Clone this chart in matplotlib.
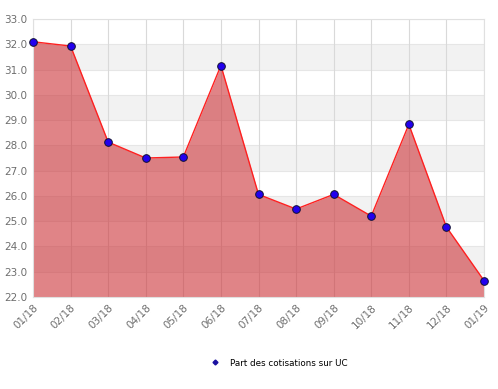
import matplotlib.pyplot as plt
import numpy as np

months = ['01/18', '02/18', '03/18', '04/18', '05/18', '06/18', '07/18',
          '08/18', '09/18', '10/18', '11/18', '12/18', '01/19']
part_uc = [32.1, 31.93, 28.13, 27.5, 27.54, 31.16, 26.06,
           25.48, 26.06, 25.2, 28.83, 24.77, 22.65]

fig = plt.figure(figsize=(4.98, 3.89), dpi=100)
ax = fig.add_axes([33 / 498, 1 - 297 / 389, 451 / 498, 278 / 389])

x = np.arange(len(months))

# alternating horizontal bands
for lo in range(22, 33):
    if lo % 2 == 1:
        ax.axhspan(lo, lo + 1, color='#f2f2f2', zorder=0, lw=0)
for v in range(22, 34):
    ax.axhline(v, color='#e6e6e6', lw=0.8, zorder=0.5)
for xi in x:
    ax.axvline(xi, color='#d9d9d9', lw=0.8, zorder=0.5)

ax.fill_between(x, 22, part_uc, color=(0.8, 0.2, 0.22), alpha=0.6, lw=0, zorder=1)
ax.plot(x, part_uc, color='#ff2020', lw=1, zorder=2)
ax.plot(x, part_uc, 'o', color='#2200ee', markeredgecolor='#111133',
        markeredgewidth=0.7, markersize=5.5, zorder=3, clip_on=False)

ax.set_xlim(0, len(months) - 1)
ax.set_ylim(22, 33)
ax.set_yticks(range(22, 34))
ax.set_yticklabels([f'{v:.1f}' for v in range(22, 34)])
ax.set_xticks(x)
ax.set_xticklabels(months, rotation=45, ha='right', rotation_mode='anchor')
ax.tick_params(length=0, labelsize=7.5, labelcolor='#6e6e6e', pad=4)
for s in ax.spines.values():
    s.set_color('#e0e0e0')

handle, = ax.plot([], [], 'D', color='#1a10a0', markersize=2.5)
fig.legend([handle], ['Part des cotisations sur UC'], loc='center',
           bbox_to_anchor=(278 / 498, 1 - 363 / 389), frameon=False, fontsize=6.3,
           handletextpad=1.0, handlelength=1.5)

fig.savefig('out.png', dpi=100)
